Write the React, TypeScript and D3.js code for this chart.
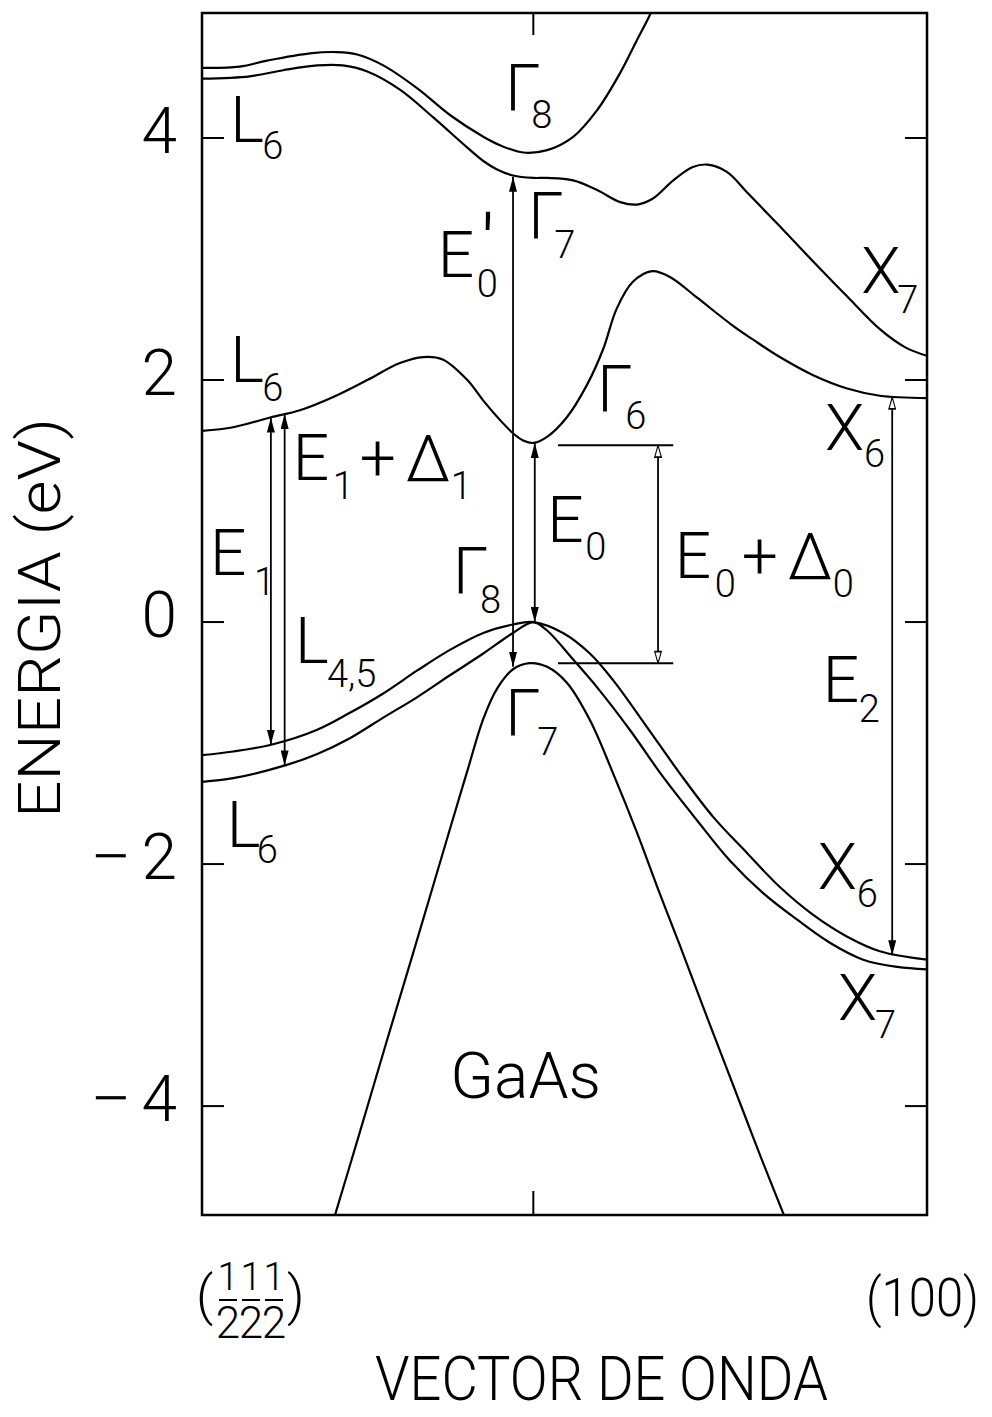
import React from 'react';
import * as d3 from 'd3';

const W = 992;
const H = 1417;

// Path coordinate along the Brillouin-zone cut: 0 = L (½½½), 1 = X (100)
const kGamma = 0.457;

// Conduction bands, [k, E(eV)]
const bandL6Gamma8: [number, number][] = [
  [0, 4.58], [0.052, 4.59], [0.09, 4.64], [0.149, 4.7], [0.186, 4.71], [0.214, 4.69],
  [0.25, 4.6], [0.297, 4.41], [0.342, 4.19], [0.388, 4.01], [0.411, 3.94], [0.443, 3.88],
  [0.476, 3.9], [0.512, 4.01], [0.545, 4.23], [0.577, 4.54], [0.6, 4.81], [0.618, 5.02], [0.63, 5.2],
];
const bandL6Gamma7X7: [number, number][] = [
  [0, 4.49], [0.066, 4.51], [0.112, 4.56], [0.159, 4.6], [0.194, 4.6], [0.228, 4.55],
  [0.273, 4.4], [0.319, 4.17], [0.366, 3.92], [0.388, 3.81], [0.407, 3.74], [0.429, 3.69],
  [0.457, 3.67], [0.476, 3.67], [0.512, 3.65], [0.545, 3.57], [0.577, 3.47], [0.6, 3.45],
  [0.622, 3.5], [0.65, 3.65], [0.677, 3.76], [0.697, 3.78], [0.724, 3.72], [0.752, 3.55],
  [0.797, 3.27], [0.843, 2.98], [0.89, 2.69], [0.935, 2.42], [0.97, 2.27], [1.0, 2.2],
];
const bandL6Gamma6X6: [number, number][] = [
  [0, 1.58], [0.043, 1.61], [0.094, 1.69], [0.135, 1.75], [0.181, 1.86], [0.228, 2.0],
  [0.273, 2.14], [0.305, 2.19], [0.332, 2.17], [0.366, 2.0], [0.388, 1.83], [0.411, 1.67],
  [0.429, 1.56], [0.443, 1.5], [0.457, 1.48], [0.476, 1.53], [0.503, 1.69], [0.531, 1.96],
  [0.553, 2.25], [0.572, 2.59], [0.594, 2.81], [0.621, 2.9], [0.646, 2.85], [0.683, 2.68],
  [0.732, 2.45], [0.766, 2.31], [0.797, 2.19], [0.843, 2.04], [0.89, 1.93], [0.935, 1.87],
  [1.0, 1.85],
];

// Valence bands
const bandL45Gamma8X6: [number, number][] = [
  [0, -1.1], [0.043, -1.07], [0.098, -1.01], [0.159, -0.89], [0.204, -0.75], [0.25, -0.59],
  [0.297, -0.4], [0.342, -0.23], [0.388, -0.09], [0.429, -0.02], [0.457, 0.0], [0.498, -0.09],
  [0.535, -0.26], [0.567, -0.48], [0.614, -0.87], [0.659, -1.25], [0.705, -1.61], [0.752, -1.91],
  [0.797, -2.19], [0.843, -2.42], [0.89, -2.6], [0.935, -2.72], [1.0, -2.79],
];
const bandL6Gamma8X7: [number, number][] = [
  [0, -1.32], [0.043, -1.29], [0.117, -1.18], [0.159, -1.09], [0.204, -0.96], [0.25, -0.79],
  [0.297, -0.62], [0.342, -0.44], [0.388, -0.26], [0.429, -0.09], [0.457, 0.0], [0.476, -0.07],
  [0.512, -0.31], [0.545, -0.54], [0.59, -0.89], [0.636, -1.28], [0.683, -1.64], [0.728, -1.97],
  [0.774, -2.24], [0.821, -2.46], [0.866, -2.65], [0.912, -2.79], [0.959, -2.85], [1.0, -2.87],
];
const bandGamma7SplitOff: [number, number][] = [
  [0.181, -4.95], [0.217, -4.23], [0.252, -3.52], [0.291, -2.74], [0.342, -1.71], [0.366, -1.23],
  [0.388, -0.8], [0.407, -0.55], [0.429, -0.39], [0.452, -0.34], [0.476, -0.37], [0.503, -0.5],
  [0.535, -0.81], [0.567, -1.25], [0.6, -1.74], [0.628, -2.19], [0.659, -2.67], [0.683, -3.05],
  [0.702, -3.35], [0.745, -4.02], [0.772, -4.44], [0.806, -4.95],
];

const bands = [
  bandL6Gamma8, bandL6Gamma7X7, bandL6Gamma6X6,
  bandL45Gamma8X6, bandL6Gamma8X7, bandGamma7SplitOff,
];

const energyTicks = [-4, -2, 0, 2, 4];

// Optical transitions: k, lower and upper energies
const transitions: { k: number; lo: number; hi: number; hollow?: boolean; hollowTop?: boolean }[] = [
  { k: 0.429, lo: -0.37, hi: 3.68 },          // E0' and Δ0
  { k: 0.459, lo: 0.0, hi: 1.48 },            // E0
  { k: 0.629, lo: -0.34, hi: 1.46, hollow: true }, // E0 + Δ0
  { k: 0.095, lo: -1.013, hi: 1.69 },         // E1
  { k: 0.114, lo: -1.185, hi: 1.72 },         // E1 + Δ1
  { k: 0.952, lo: -2.753, hi: 1.857, hollowTop: true }, // E2
];

// Reference levels bracketing E0 + Δ0
const levelLines: { k0: number; k1: number; e: number }[] = [
  { k0: 0.491, k1: 0.65, e: 1.46 },
  { k0: 0.491, k1: 0.65, e: -0.34 },
];

// Symmetry-point labels: letter, subscript, anchor (k, E)
const pointLabels: { main: string; sub: string; k: number; e: number; sdx: number; sdy: number }[] = [
  { main: 'L', sub: '6', k: 0.046, e: 3.97, sdx: 30, sdy: 17 },
  { main: 'Γ', sub: '8', k: 0.425, e: 4.23, sdx: 24, sdy: 18 },
  { main: 'Γ', sub: '7', k: 0.457, e: 3.17, sdx: 24, sdy: 20 },
  { main: 'X', sub: '7', k: 0.912, e: 2.72, sdx: 37, sdy: 20 },
  { main: 'L', sub: '6', k: 0.046, e: 1.98, sdx: 30, sdy: 19 },
  { main: 'Γ', sub: '6', k: 0.552, e: 1.74, sdx: 26, sdy: 18 },
  { main: 'X', sub: '6', k: 0.862, e: 1.42, sdx: 40, sdy: 17 },
  { main: 'E', sub: '1', k: 0.018, e: 0.39, sdx: 42, sdy: 20 },
  { main: 'Γ', sub: '8', k: 0.353, e: 0.24, sdx: 25, sdy: 20 },
  { main: 'E', sub: '0', k: 0.483, e: 0.66, sdx: 36, sdy: 18 },
  { main: 'L', sub: '4,5', k: 0.135, e: -0.34, sdx: 30, sdy: 24 },
  { main: 'Γ', sub: '7', k: 0.425, e: -0.93, sdx: 30, sdy: 20 },
  { main: 'E', sub: '2', k: 0.863, e: -0.66, sdx: 34, sdy: 20 },
  { main: 'X', sub: '6', k: 0.852, e: -2.21, sdx: 40, sdy: 18 },
  { main: 'X', sub: '7', k: 0.88, e: -3.29, sdx: 38, sdy: 18 },
  { main: 'L', sub: '6', k: 0.041, e: -1.86, sdx: 28, sdy: 16 },
];

// Gap labels of the form E_n + Δ_n
const sumLabels: { n: string; k: number; e: number }[] = [
  { n: '1', k: 0.132, e: 1.17 },
  { n: '0', k: 0.659, e: 0.36 },
];

const FONT = "Roboto, 'Liberation Sans', Arial, sans-serif";
const BIG = 64;
const SMALL = 38;
// side bearings of the light sans face, so glyph ink starts at the anchor
const bearing = (ch: string) => (ch === 'X' ? 2 : 5);
const SUB_BEARING = 3;

export default function App() {
  const x = d3.scaleLinear().domain([0, 1]).range([202, 927]);
  const y = d3.scaleLinear().domain([-4.9, 5.033]).range([1215, 13]);
  const line = d3
    .line<[number, number]>()
    .x((d) => x(d[0]))
    .y((d) => y(d[1]))
    .curve(d3.curveCatmullRom.alpha(0.5));

  const left = x(0);
  const right = x(1);
  const top = y(5.033);
  const bottom = y(-4.9);
  const gx = x(kGamma);

  return (
    <svg
      width={W}
      height={H}
      viewBox={`0 0 ${W} ${H}`}
      style={{ position: 'absolute', left: 0, top: 0, background: '#fff' }}
      fontFamily={FONT}
      fontWeight={300}
    >
      <defs>
        <clipPath id="plotArea">
          <rect x={left} y={top} width={right - left} height={bottom - top} />
        </clipPath>
        <marker id="head" viewBox="0 0 10 10" refX="10" refY="5" markerWidth="15" markerHeight="8"
          markerUnits="userSpaceOnUse" orient="auto-start-reverse" preserveAspectRatio="none">
          <path d="M0,0 L10,5 L0,10 Z" fill="#000" />
        </marker>
        <marker id="headOpen" viewBox="-1 -1 12 12" refX="10" refY="5" markerWidth="14" markerHeight="8"
          markerUnits="userSpaceOnUse" orient="auto-start-reverse" preserveAspectRatio="none">
          <path d="M0,0 L10,5 L0,10 Z" fill="#fff" stroke="#000" strokeWidth="1.5" />
        </marker>
      </defs>

      <rect x={0} y={0} width={W} height={H} fill="#fff" />

      {/* frame */}
      <rect x={left} y={top} width={right - left} height={bottom - top} fill="none" stroke="#000" strokeWidth={2.5} />

      {/* energy ticks on both sides */}
      {energyTicks.map((t) => (
        <g key={`t${t}`}>
          <line x1={left} x2={left + 22} y1={y(t)} y2={y(t)} stroke="#000" strokeWidth={2} />
          <line x1={right - 22} x2={right} y1={y(t)} y2={y(t)} stroke="#000" strokeWidth={2} />
          <text x={177} y={y(t) + 15} fontSize={BIG} textAnchor="end">{Math.abs(t)}</text>
          {t < 0 && (
            <text x={90} y={y(t) + 15} fontSize={BIG} textLength={42} lengthAdjust="spacingAndGlyphs">−</text>
          )}
        </g>
      ))}

      {/* Γ ticks */}
      <line x1={gx} x2={gx} y1={top} y2={top + 22} stroke="#000" strokeWidth={2} />
      <line x1={gx} x2={gx} y1={bottom} y2={bottom - 24} stroke="#000" strokeWidth={2} />

      {/* bands */}
      <g clipPath="url(#plotArea)">
        {bands.map((b, i) => (
          <path key={`b${i}`} d={line(b) ?? ''} fill="none" stroke="#000" strokeWidth={2.2} />
        ))}
      </g>

      {/* reference levels */}
      {levelLines.map((l, i) => (
        <line key={`l${i}`} x1={x(l.k0)} x2={x(l.k1)} y1={y(l.e)} y2={y(l.e)} stroke="#000" strokeWidth={2} />
      ))}

      {/* transitions */}
      {transitions.map((a, i) => (
        <line
          key={`a${i}`}
          x1={x(a.k)} x2={x(a.k)} y1={y(a.lo)} y2={y(a.hi)}
          stroke="#000" strokeWidth={1.8}
          markerStart={a.hollow ? 'url(#headOpen)' : 'url(#head)'}
          markerEnd={a.hollow || a.hollowTop ? 'url(#headOpen)' : 'url(#head)'}
        />
      ))}

      {/* symmetry-point labels */}
      {pointLabels.map((p, i) => (
        <g key={`p${i}`}>
          <text x={x(p.k) - bearing(p.main)} y={y(p.e)} fontSize={BIG}>{p.main}</text>
          <text x={x(p.k) + p.sdx - SUB_BEARING} y={y(p.e) + p.sdy} fontSize={SMALL}>{p.sub}</text>
        </g>
      ))}

      {/* E0' */}
      <g>
        <text x={x(0.332) - 5} y={y(2.85)} fontSize={BIG}>E</text>
        <text x={x(0.332) + 37 - SUB_BEARING} y={y(2.85) + 20} fontSize={SMALL}>0</text>
        <text x={x(0.332) + 38} y={y(2.85) - 2} fontSize={84}>′</text>
      </g>

      {/* E + Δ labels */}
      {sumLabels.map((s, i) => (
        <g key={`s${i}`}>
          <text x={x(s.k) - 5} y={y(s.e)} fontSize={BIG}>E</text>
          <text x={x(s.k) + 38 - SUB_BEARING} y={y(s.e) + 19} fontSize={SMALL}>{s.n}</text>
          <text x={x(s.k) + 62} y={y(s.e)} fontSize={BIG}>+</text>
          <text x={x(s.k) + 108} y={y(s.e) + 1} fontSize={BIG}>Δ</text>
          <text x={x(s.k) + 156 - SUB_BEARING} y={y(s.e) + 19} fontSize={SMALL}>{s.n}</text>
        </g>
      ))}

      {/* material */}
      <text x={x(0.348) - 4} y={y(-3.93)} fontSize={BIG}>GaAs</text>

      {/* axis titles */}
      <text transform="translate(60,618) rotate(-90)" fontSize={60} textAnchor="middle"
        textLength={400} lengthAdjust="spacingAndGlyphs">ENERGIA (eV)</text>
      <text x={375} y={1400} fontSize={62} textLength={453} lengthAdjust="spacingAndGlyphs">VECTOR DE ONDA</text>

      {/* k-point labels */}
      <text x={866} y={1316} fontSize={54} textLength={113} lengthAdjust="spacingAndGlyphs">(100)</text>
      <g>
        <text x={196} y={1314} fontSize={54}>(</text>
        {[228, 251, 274].map((cx, i) => (
          <g key={`f${i}`}>
            <text x={cx} y={1290} fontSize={38} textAnchor="middle">1</text>
            <line x1={cx - 9} x2={cx + 9} y1={1300} y2={1300} stroke="#000" strokeWidth={2} />
            <text x={cx} y={1338} fontSize={44} textAnchor="middle">2</text>
          </g>
        ))}
        <text x={287} y={1314} fontSize={54}>)</text>
      </g>
    </svg>
  );
}
